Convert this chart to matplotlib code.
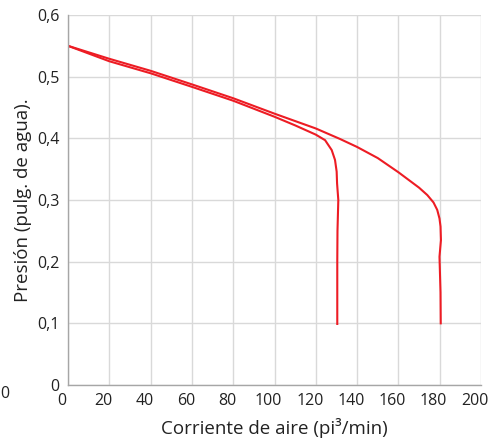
import matplotlib
matplotlib.use("Agg")
import matplotlib.pyplot as plt
import matplotlib.transforms as mtransforms
from matplotlib.ticker import FuncFormatter

plt.rcParams['font.family'] = ['Open Sans', 'DejaVu Sans']

# curva que cae en ~130 pi3/min
flujo_a = [0, 20, 40, 60, 80, 100, 110, 120, 124.5, 127.7, 129.3, 130.1, 130.3, 130.9, 130.5, 130.4, 130.4]
presion_a = [0.55, 0.525, 0.5055, 0.4835, 0.461, 0.435, 0.421, 0.406, 0.397, 0.381, 0.365, 0.346, 0.327, 0.300, 0.250, 0.200, 0.099]

# curva que cae en ~180 pi3/min
flujo_b = [0, 20, 40, 60, 80, 100, 110, 120, 131.7, 140, 150, 160, 170, 174, 177, 178.8, 179.9, 180.4, 180.6, 179.9, 180.4, 180.5]
presion_b = [0.55, 0.529, 0.5095, 0.4875, 0.465, 0.440, 0.428, 0.416, 0.399, 0.386, 0.368, 0.345, 0.320, 0.308, 0.296, 0.284, 0.270, 0.257, 0.235, 0.208, 0.150, 0.100]

x_ticks = list(range(0, 201, 20))
y_ticks = [0, 0.1, 0.2, 0.3, 0.4, 0.5, 0.6]

fig = plt.figure(figsize=(4.89, 4.42), dpi=100)
ax = fig.add_axes([68 / 489, 1 - 385 / 442, 413 / 489, 370 / 442])

rojo = '#ED1C24'
ax.plot(flujo_a, presion_a, color=rojo, lw=1.5, solid_joinstyle='round')
ax.plot(flujo_b, presion_b, color=rojo, lw=1.5, solid_joinstyle='round')

ax.set_xlim(0, 200)
ax.set_ylim(0, 0.6)
ax.set_xticks(x_ticks)
ax.set_yticks(y_ticks)
ax.yaxis.set_major_formatter(FuncFormatter(lambda v, p: '0' if v == 0 else f'{v:.1f}'.replace('.', ',')))
ax.grid(True, color='#D9D9D9', lw=1)
ax.set_axisbelow(True)
ax.tick_params(length=0, labelsize=11.5, colors='#222222', pad=6)

for s in ['top', 'right']:
    ax.spines[s].set_visible(False)
for s in ['left', 'bottom']:
    ax.spines[s].set_color('#A6A6A6')
    ax.spines[s].set_linewidth(1)

# las etiquetas del eje x aparecen algo corridas a la izquierda
despl = mtransforms.ScaledTranslation(-0.06, 0, fig.dpi_scale_trans)
for lab in ax.get_xticklabels():
    lab.set_transform(lab.get_transform() + despl)

ax.set_xlabel('Corriente de aire (pi³/min)', fontsize=13.5, color='#222222', labelpad=6)
ax.set_ylabel('Presión (pulg. de agua).', fontsize=13.5, color='#222222', labelpad=4)

fig.text(0.0, 1 - 394 / 442, '0', fontsize=11.5, color='#222222', va='center', ha='left')

fig.savefig('out.png', dpi=100)
